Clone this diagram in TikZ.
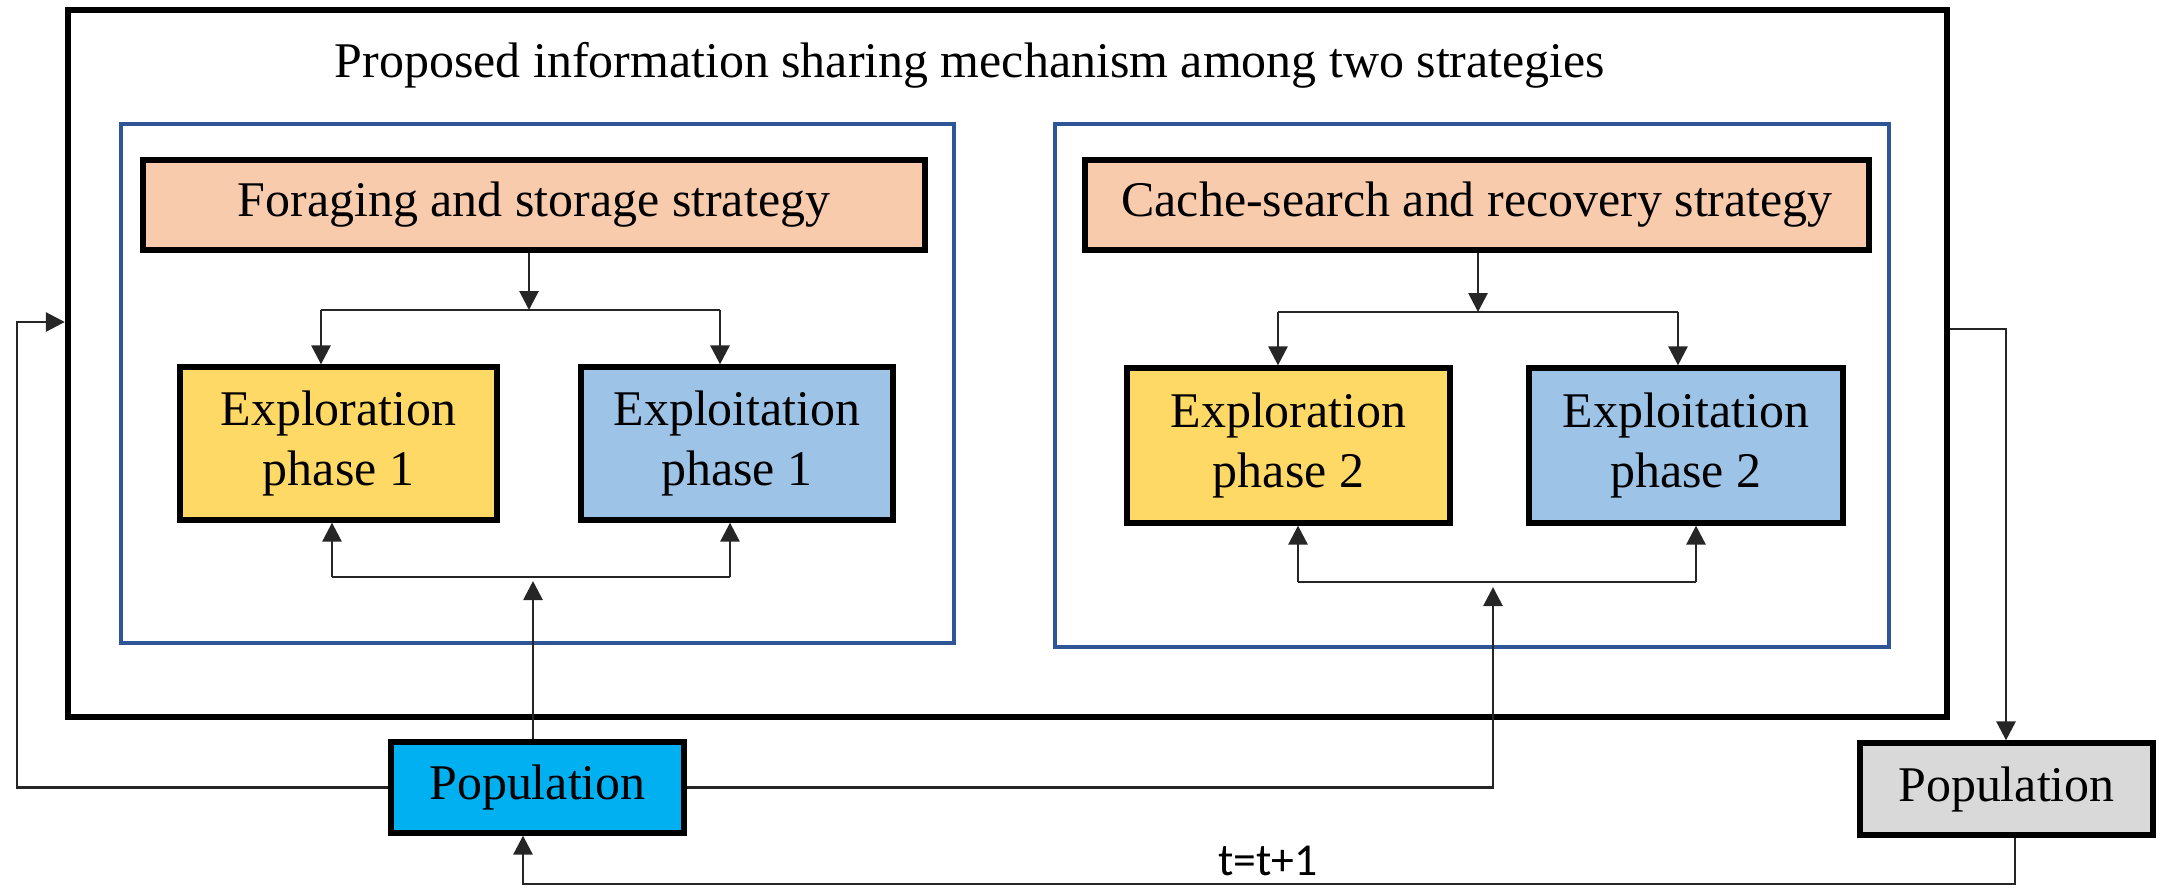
\documentclass[tikz,border=0pt]{standalone}
\usepackage{fontspec}
\setmainfont{Liberation Serif}
\newfontfamily\labelfont{Carlito}
\usetikzlibrary{arrows.meta}

\definecolor{peach}{HTML}{F8CBAD}
\definecolor{sand}{HTML}{FFD966}
\definecolor{sky}{HTML}{9DC3E6}
\definecolor{popblue}{HTML}{00B0F0}
\definecolor{popgray}{HTML}{D9D9D9}
\definecolor{groupblue}{HTML}{2F5597}

\begin{document}
\begin{tikzpicture}[x=0.01cm,y=-0.01cm,
  every node/.style={font=\fontsize{14.2}{17}\selectfont, inner sep=0pt},
  sz/.style 2 args={minimum width=#1*0.01cm, minimum height=#2*0.01cm},
  box/.style={draw=black, line width=1.5pt, align=center},
  frame/.style={draw=black, line width=1.8pt},
  group/.style={draw=groupblue, line width=1.4pt},
  link/.style={line width=0.8pt, draw=black!85},
  arr/.style={link, -{Triangle[length=0.19cm,width=0.19cm]}}
]
\useasboundingbox (0,0) rectangle (2160,887);

% outer frame and heading
\node[frame, sz={1879}{707}] (outer) at (1007.5,363.5) {};
\node[anchor=base] (title) at (970,77) {Proposed information sharing mechanism among two strategies};

% the two strategy groups
\node[group, sz={833}{519}] (grp1) at (537.5,383.5) {};
\node[group, sz={834}{523}] (grp2) at (1472,385.5) {};

\node[box, fill=peach, sz={782}{90}] (strat1) at (534,205) {Foraging and storage strategy};
\node[box, fill=peach, sz={784}{90}] (strat2) at (1477,205) {Cache-search and recovery strategy};

\node[box, fill=sand, sz={317}{153}] (explor1) at (338.5,443.5) {Exploration\\phase 1};
\node[box, fill=sky, sz={312}{153}] (exploit1) at (737,443.5) {Exploitation\\phase 1};
\node[box, fill=sand, sz={323}{155}] (explor2) at (1288.5,445.5) {Exploration\\phase 2};
\node[box, fill=sky, sz={314}{155}] (exploit2) at (1686,445.5) {Exploitation\\phase 2};

% populations
\node[box, fill=popblue, sz={293}{91}] (pop1) at (537.5,787.5) {Population};
\node[box, fill=popgray, sz={293}{92}] (pop2) at (2006.5,789) {Population};

% branch points
\coordinate (s1) at (529,310);
\coordinate (b1l) at (321,310);
\coordinate (b1r) at (720,310);
\coordinate (j1l) at (332,577);
\coordinate (j1r) at (730,577);
\coordinate (u1) at (533,581);

\coordinate (s2) at (1478,312);
\coordinate (b2l) at (1278,312);
\coordinate (b2r) at (1678,312);
\coordinate (j2l) at (1298,582);
\coordinate (j2r) at (1696,582);
\coordinate (u2) at (1493,587);

\coordinate (lx) at (17,322);
\coordinate (rx) at (2006,329);
\coordinate (fb) at (2015,884);
\coordinate (fbl) at (523,884);

% first strategy
\draw[arr] (strat1.south -| s1) -- (s1);
\draw[link] (b1l) -- (b1r);
\draw[arr] (b1l) -- (b1l |- explor1.north);
\draw[arr] (b1r) -- (b1r |- exploit1.north);
\draw[link] (j1l) -- (j1r);
\draw[arr] (j1l) -- (j1l |- explor1.south);
\draw[arr] (j1r) -- (j1r |- exploit1.south);
\draw[arr] (pop1.north -| u1) -- (u1);

% second strategy
\draw[arr] (strat2.south -| s2) -- (s2);
\draw[link] (b2l) -- (b2r);
\draw[arr] (b2l) -- (b2l |- explor2.north);
\draw[arr] (b2r) -- (b2r |- exploit2.north);
\draw[link] (j2l) -- (j2r);
\draw[arr] (j2l) -- (j2l |- explor2.south);
\draw[arr] (j2r) -- (j2r |- exploit2.south);
\draw[arr] (pop1.east) -| (u2);

% loops around the frame
\draw[arr] (pop1.west) -| (lx) -- (outer.west |- lx);
\draw[arr] (outer.east |- rx) -- (rx) -- (pop2.north -| rx);
\draw[arr] (pop2.south -| fb) -- (fb) -- (fbl) -- (pop1.south -| fbl);
\node[font=\labelfont\fontsize{13}{15}\selectfont, anchor=base] (tlabel) at (1268,875) {t=t+1};
\end{tikzpicture}
\end{document}
